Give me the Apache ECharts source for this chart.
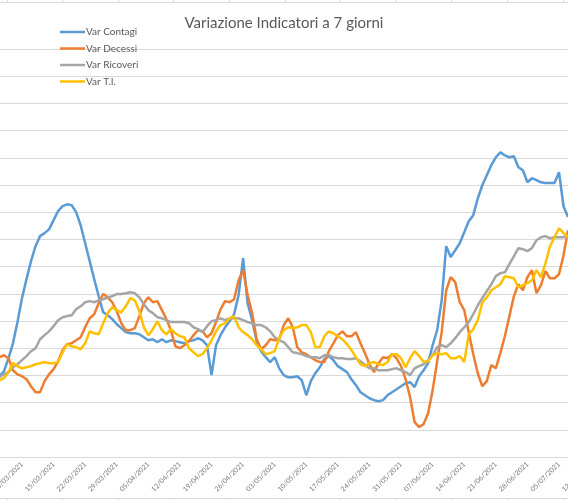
<!DOCTYPE html>
<html>
<head>
<meta charset="utf-8">
<script src="https://cdn.jsdelivr.net/npm/echarts@6/dist/echarts.min.js"></script>
<style>
  html, body { margin: 0; padding: 0; background: #fff; }
  #chart { width: 568px; height: 500px; }
</style>
</head>
<body>
<div id="chart"></div>
<script>
// giorni dal 01/03/2021 al 12/07/2021 (categorie), valori dal 03/03
const startDate = Date.UTC(2021, 2, 1)
const dayCount = 134
const dates = []
for (let i = 0; i < dayCount; i++) {
  const d = new Date(startDate + i * 86400000)
  const dd = String(d.getUTCDate()).padStart(2, '0')
  const mm = String(d.getUTCMonth() + 1).padStart(2, '0')
  dates.push(dd + '/' + mm + '/' + d.getUTCFullYear())
}
const firstDataIndex = 2

const varContagi = [
  -10.3, -8.5, -3.7, 1.8, 9.6, 18.4, 25.4, 32.0, 37.5, 41.2, 42.3, 43.7, 47.1, 50.4, 52.2, 52.9, 52.6, 50.0,
  45.2, 38.6, 32.0, 25.4, 19.1, 13.2, 12.1, 10.7, 8.8, 7.4, 5.9, 5.5, 5.5, 5.1, 4.0, 2.9, 3.3, 2.2,
  3.3, 2.2, 2.9, 2.6, 2.2, 1.8, 2.6, 2.9, 3.7, 2.9, 1.1, -9.9, 1.1, 4.8, 7.7, 9.9, 12.5, 19.5,
  33.1, 16.5, 10.3, 2.6, -1.1, -3.3, -5.1, -3.3, -7.4, -9.9, -10.7, -10.7, -10.3, -11.8, -17.3, -12.1, -9.2, -7.0,
  -4.0, -2.9, -4.4, -6.6, -7.7, -8.8, -11.4, -13.6, -16.2, -17.3, -18.4, -19.1, -19.5, -19.1, -17.3, -16.2, -15.1, -14.0,
  -12.9, -12.5, -14.3, -10.3, -8.1, -5.5, 1.1, 6.6, 17.6, 37.5, 33.5, 36.0, 38.6, 42.6, 46.7, 48.9, 55.1, 59.9,
  63.6, 67.3, 70.2, 72.0, 70.9, 70.2, 70.6, 66.5, 65.4, 61.0, 62.5, 61.8, 61.0, 60.7, 60.7, 60.7, 64.7, 52.2,
  48.2
]
const varDecessi = [
  -3.3, -2.6, -3.7, -8.1, -9.6, -10.3, -11.4, -14.0, -16.2, -16.2, -12.1, -9.6, -7.7, -4.8, -0.7, 1.5, 1.8, 2.9,
  4.0, 7.7, 11.0, 12.5, 16.5, 19.9, 18.7, 16.9, 13.6, 9.2, 6.6, 6.6, 7.4, 11.8, 16.5, 18.7, 16.9, 17.3,
  14.0, 10.7, 6.6, 0.7, 0.0, 1.1, 2.6, 4.8, 6.6, 6.2, 4.0, 5.5, 9.6, 14.3, 17.3, 16.9, 18.0, 25.0,
  28.7, 19.5, 12.9, 3.3, -0.4, 1.1, 3.3, 2.9, 3.3, 8.5, 11.0, 7.7, 0.4, -1.5, -2.2, -3.3, -4.4, -5.1,
  -5.1, -1.1, 1.8, 4.8, 6.2, 4.4, 4.4, 5.9, 1.8, -1.8, -5.9, -8.8, -5.5, -3.3, -3.7, -2.2, -3.7, -6.6,
  -11.4, -18.0, -27.2, -29.0, -27.9, -23.9, -15.4, -4.8, 5.9, 21.3, 26.1, 24.3, 16.9, 14.0, 5.9, -2.2, -9.2, -14.0,
  -12.1, -6.2, -7.4, -1.8, 4.4, 11.8, 19.1, 23.5, 21.3, 26.1, 28.7, 20.2, 23.2, 28.3, 25.7, 25.7, 27.2, 34.2,
  43.4
]
const varRicoveri = [
  -10.7, -9.6, -8.8, -7.0, -5.9, -4.4, -2.9, -1.1, 0.0, 3.3, 4.8, 6.2, 8.1, 10.3, 11.4, 11.8, 12.1, 14.3,
  15.4, 16.9, 17.3, 16.9, 17.6, 18.0, 18.7, 19.1, 19.9, 19.9, 20.2, 20.6, 20.2, 18.7, 16.2, 14.0, 12.9, 11.4,
  11.0, 10.3, 9.6, 9.6, 9.6, 9.6, 9.2, 7.7, 7.0, 5.9, 8.1, 9.9, 10.3, 11.0, 10.3, 11.0, 11.0, 11.0,
  10.3, 9.6, 9.2, 8.5, 8.5, 7.7, 6.2, 4.0, 2.9, 2.2, 0.4, -1.5, -1.8, -2.2, -2.9, -3.3, -3.3, -3.7,
  -2.6, -2.6, -3.3, -3.7, -3.7, -4.0, -4.0, -3.7, -4.8, -6.2, -7.4, -7.4, -8.1, -8.1, -8.1, -7.7, -7.4, -8.1,
  -8.8, -9.9, -7.4, -6.6, -5.9, -4.4, -2.6, 0.4, 1.1, 0.4, 1.8, 3.7, 5.9, 7.7, 9.6, 12.5, 15.8, 18.4,
  21.0, 23.5, 26.5, 27.6, 27.9, 30.9, 33.8, 36.8, 36.4, 35.7, 36.8, 39.7, 40.8, 41.2, 40.4, 40.8, 40.8, 40.8,
  41.5
]
const varTI = [
  -11.8, -11.0, -8.8, -5.5, -6.6, -7.4, -7.0, -6.6, -5.9, -5.5, -5.1, -5.5, -5.5, -5.1, -1.5, 1.5, 0.7, 0.4,
  -0.4, 1.8, 6.2, 5.5, 5.1, 9.2, 12.9, 15.1, 14.0, 13.2, 15.4, 18.4, 17.6, 13.6, 7.7, 4.8, 7.0, 9.9,
  6.6, 5.1, 7.0, 5.5, 4.4, 4.0, 0.0, -1.5, -2.9, -2.2, 0.0, 2.9, 6.2, 8.5, 9.2, 11.0, 11.8, 7.7,
  5.9, 4.8, 3.3, 1.1, -0.4, -2.2, -1.8, -1.1, 3.7, 6.6, 7.7, 7.4, 7.7, 8.5, 8.5, 5.9, 0.4, 0.4,
  4.4, 6.2, 5.5, 4.4, 3.3, 1.5, -0.7, -3.3, -5.9, -6.6, -5.5, -5.1, -5.9, -6.2, -5.1, -2.2, -2.2, -3.7,
  -7.0, -3.7, -1.1, -2.9, -5.1, -4.8, -2.6, -1.8, -2.2, -1.8, -3.7, -3.7, -2.9, -5.1, 5.1, 7.0, 10.3, 16.9,
  18.7, 21.3, 22.4, 23.5, 26.5, 26.1, 25.7, 22.4, 23.2, 23.9, 25.0, 28.7, 26.1, 31.2, 37.5, 40.8, 44.1, 42.3,
  40.8
]

const seriesNames = ['Var Contagi', 'Var Decessi', 'Var Ricoveri', 'Var T.I.']
const seriesColors = ['#5B9BD5', '#ED7D31', '#A5A5A5', '#FFC000']
const seriesValues = [varContagi, varDecessi, varRicoveri, varTI]

function pad(values) {
  const out = new Array(firstDataIndex).fill(null).concat(values)
  while (out.length < dates.length) out.push(null)
  return out
}

const chart = echarts.init(document.getElementById('chart'), null, { renderer: 'canvas' })

// bordi sottili con tacche, sopra e sotto (ritaglio della pagina originale)
const frame = []
;[2, 498].forEach((y, k) => {
  frame.push({ type: 'rect', shape: { x: 0, y: y, width: 568, height: 1 }, style: { fill: '#d9d9d9' }, silent: true, z: 10 })
  for (let x = 6.5; x < 568; x += 55.6) {
    const ty = k === 0 ? y - 2 : y + 1
    frame.push({ type: 'rect', shape: { x: Math.round(x), y: ty, width: 1, height: 2 }, style: { fill: '#d9d9d9' }, silent: true, z: 10 })
  }
})

chart.setOption({
  animation: false,
  textStyle: { fontFamily: 'Lato' },
  title: {
    text: 'Variazione Indicatori a 7 giorni',
    left: 'center',
    top: 11,
    textStyle: { fontFamily: 'Lato', fontSize: 15, fontWeight: 'normal', color: '#595959' },
  },
  legend: {
    orient: 'vertical',
    left: 55,
    top: 22,
    icon: 'rect',
    itemWidth: 25,
    itemHeight: 2.5,
    itemGap: 6.5,
    data: seriesNames,
    textStyle: { fontFamily: 'Lato', fontSize: 10, color: '#595959', padding: [0, 0, 0, -4] },
  },
  graphic: frame,
  grid: { left: -9.6, right: -22.6, top: 49, bottom: 43, containLabel: false, outerBoundsMode: 'none' },
  xAxis: {
    type: 'category',
    data: dates,
    boundaryGap: false,
    axisLine: { show: false },
    axisTick: { show: false },
    axisLabel: {
      interval: 6,
      rotate: 45,
      fontSize: 7,
      margin: 6,
      color: '#7a7a7a',
      fontFamily: 'Lato',
    },
  },
  yAxis: {
    type: 'value',
    min: -40,
    max: 110,
    interval: 10,
    axisLabel: { show: false },
    axisLine: { show: false },
    axisTick: { show: false },
    splitLine: { lineStyle: { color: '#d9d9d9', width: 1 } },
  },
  series: seriesNames.map((name, i) => ({
    name,
    type: 'line',
    data: pad(seriesValues[i]),
    symbol: 'none',
    smooth: false,
    connectNulls: false,
    lineStyle: { color: seriesColors[i], width: 2.5 },
    itemStyle: { color: seriesColors[i] },
  })),
})
</script>
</body>
</html>
